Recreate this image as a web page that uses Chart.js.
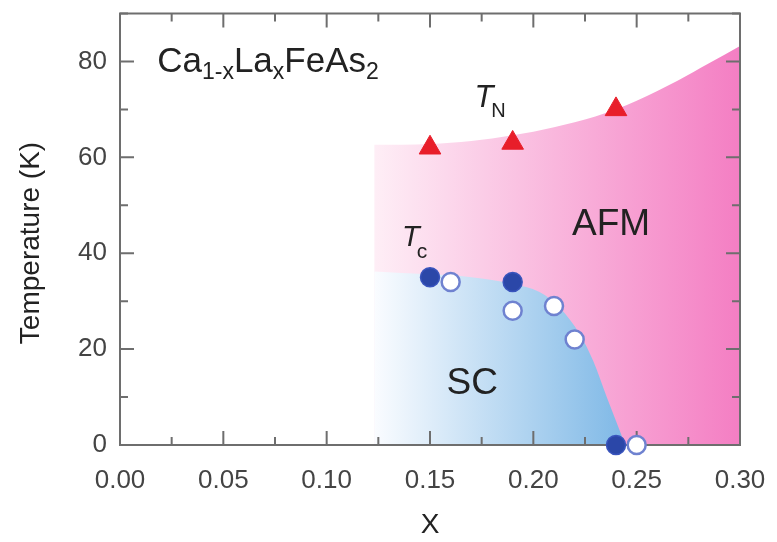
<!DOCTYPE html>
<html>
<head>
<meta charset="utf-8">
<script src="https://cdn.jsdelivr.net/npm/chart.js@4.4.1/dist/chart.umd.min.js"></script>
<style>
  html, body { margin: 0; padding: 0; background: #fff; }
</style>
</head>
<body>
<canvas id="chart" width="777" height="542"></canvas>
<script>
// axis ticks
const xTicks = [0, 0.05, 0.10, 0.15, 0.20, 0.25, 0.30];
const yTicks = [0, 20, 40, 60, 80];

// AFM boundary (T_N line) and SC dome boundary
const afmX = [0.123, 0.15, 0.17, 0.19, 0.21, 0.23, 0.25, 0.27, 0.285, 0.30];
const afmY = [62.6, 62.8, 63.4, 64.6, 66.3, 68.5, 71.8, 76.0, 79.6, 83.2];
const scX = [0.123, 0.15, 0.17, 0.19, 0.203, 0.213, 0.2226, 0.229, 0.2356, 0.2445];
const scY = [36.2, 35.6, 35.0, 33.6, 31.9, 28.5, 23.0, 17.5, 9.9, 0];

// measured points
const tnX = [0.15, 0.19, 0.24];
const tnY = [62, 63, 70];
const tcFullX = [0.15, 0.19, 0.24];
const tcFullY = [35, 34, 0];
const tcOpenX = [0.16, 0.19, 0.21, 0.22, 0.25];
const tcOpenY = [34, 28, 29, 22, 0];

const FONT = '"Liberation Sans", Arial, Helvetica, sans-serif';
const zip = (xs, ys) => xs.map((x, i) => ({ x: x, y: ys[i] }));

function hGradient(ctx, x0, x1, c0, c1) {
    const chart = ctx.chart;
    if (!chart.chartArea) return c1;
    const xs = chart.scales.x;
    const g = chart.ctx.createLinearGradient(xs.getPixelForValue(x0), 0, xs.getPixelForValue(x1), 0);
    g.addColorStop(0, c0);
    g.addColorStop(1, c1);
    return g;
}

function rich(ctx, x, y, parts) {
    let cx = x;
    parts.forEach(p => {
        ctx.font = (p.it ? 'italic ' : '') + p.s + 'px ' + FONT;
        ctx.fillText(p.t, cx, y + (p.dy || 0));
        cx += ctx.measureText(p.t).width + (p.gap || 0);
    });
}

// frame + inward ticks, drawn over the coloured regions but under the markers
const frameTicks = {
    id: 'frameTicks',
    afterDatasetDraw(chart, args) {
        if (args.index !== 3) return;
        const { ctx, chartArea: a, scales: { x, y } } = chart;
        ctx.save();
        ctx.strokeStyle = '#6e6e6e';
        ctx.lineWidth = 2;
        ctx.strokeRect(a.left, a.top, a.right - a.left, a.bottom - a.top);
        ctx.beginPath();
        for (let v = 0; v <= 0.3001; v += 0.025) {
            const px = x.getPixelForValue(v);
            const len = Math.round(v / 0.025) % 2 === 0 ? 14 : 8;
            ctx.moveTo(px, a.bottom); ctx.lineTo(px, a.bottom - len);
            ctx.moveTo(px, a.top); ctx.lineTo(px, a.top + len);
        }
        for (let v = 0; v <= 90; v += 10) {
            const py = y.getPixelForValue(v);
            const len = (v / 10) % 2 === 0 ? 14 : 8;
            ctx.moveTo(a.left, py); ctx.lineTo(a.left + len, py);
            ctx.moveTo(a.right, py); ctx.lineTo(a.right - len, py);
        }
        ctx.stroke();
        ctx.restore();
    }
};

const labels = {
    id: 'labels',
    afterDraw(chart) {
        const { ctx, scales: { x, y } } = chart;
        const px = v => x.getPixelForValue(v);
        const py = v => y.getPixelForValue(v);
        ctx.save();
        ctx.fillStyle = '#222';
        ctx.textBaseline = 'alphabetic';
        ctx.textAlign = 'left';
        rich(ctx, px(0.018), py(77.9), [
            { t: 'Ca', s: 35 }, { t: '1-x', s: 23, dy: 7 },
            { t: 'La', s: 35 }, { t: 'x', s: 23, dy: 7 },
            { t: 'FeAs', s: 35 }, { t: '2', s: 23, dy: 7 }
        ]);
        rich(ctx, px(0.1715), py(70.4), [{ t: 'T', s: 31, it: true, gap: -2 }, { t: 'N', s: 20, dy: 10 }]);
        rich(ctx, px(0.1365), py(41.6), [{ t: 'T', s: 29, it: true, gap: -3 }, { t: 'c', s: 21, dy: 12 }]);
        ctx.font = '37px ' + FONT;
        ctx.fillText('AFM', px(0.2187), py(43.9));
        ctx.fillText('SC', px(0.158), py(10.7));
        // y axis title
        ctx.translate(31, 243);
        ctx.rotate(-Math.PI / 2);
        ctx.textAlign = 'center';
        ctx.textBaseline = 'middle';
        ctx.font = '28px ' + FONT;
        ctx.fillText('Temperature (K)', 0, 0);
        ctx.restore();
    }
};

new Chart(document.getElementById('chart'), {
    type: 'line',
    data: {
        datasets: [
            {
                data: zip(tcFullX, tcFullY), showLine: false, clip: false,
                pointStyle: 'circle', pointRadius: 9.5,
                pointBackgroundColor: '#2b47a8', pointBorderColor: '#3954bd', pointBorderWidth: 1.5
            },
            {
                data: zip(tcOpenX, tcOpenY), showLine: false, clip: false,
                pointStyle: 'circle', pointRadius: 9,
                pointBackgroundColor: '#ffffff', pointBorderColor: '#6f82d0', pointBorderWidth: 2.5
            },
            {
                data: zip(tnX, tnY), showLine: false, clip: false,
                pointStyle: 'triangle', pointRadius: 12.5,
                pointBackgroundColor: '#e81e2a', pointBorderColor: '#e81e2a', pointBorderWidth: 1
            },
            {
                data: zip(scX, scY), pointRadius: 0, borderWidth: 0,
                cubicInterpolationMode: 'monotone', fill: 'origin',
                backgroundColor: c => hGradient(c, 0.123, 0.245, 'rgba(250,252,255,1)', 'rgba(126,184,230,1)')
            },
            {
                data: zip(afmX, afmY), pointRadius: 0, borderWidth: 0,
                cubicInterpolationMode: 'monotone', fill: 'origin',
                backgroundColor: c => hGradient(c, 0.123, 0.30, 'rgba(254,238,246,1)', 'rgba(244,126,195,1)')
            }
        ]
    },
    options: {
        responsive: false,
        animation: false,
        devicePixelRatio: 1,
        layout: { padding: { left: 0, top: 9, right: 37, bottom: 0 } },
        plugins: { legend: { display: false }, tooltip: { enabled: false } },
        scales: {
            x: {
                type: 'linear', min: 0, max: 0.3,
                afterBuildTicks: s => { s.ticks = xTicks.map(v => ({ value: v })); },
                afterFit: s => { s.height = 97; s.paddingLeft = 0; s.paddingRight = 0; },
                grid: { display: false, drawTicks: false },
                border: { display: false },
                ticks: {
                    font: { family: FONT, size: 26 }, color: '#444', padding: 20,
                    maxRotation: 0, autoSkip: false,
                    callback: v => v.toFixed(2)
                },
                title: { display: true, text: 'X', font: { family: FONT, size: 28 }, color: '#222', padding: 0 }
            },
            y: {
                type: 'linear', min: 0, max: 90,
                afterBuildTicks: s => { s.ticks = yTicks.map(v => ({ value: v })); },
                afterFit: s => { s.width = 120; s.paddingTop = 0; s.paddingBottom = 0; },
                grid: { display: false, drawTicks: false },
                border: { display: false },
                ticks: { font: { family: FONT, size: 26 }, color: '#444', padding: 13, autoSkip: false }
            }
        }
    },
    plugins: [frameTicks, labels]
});
</script>
</body>
</html>
